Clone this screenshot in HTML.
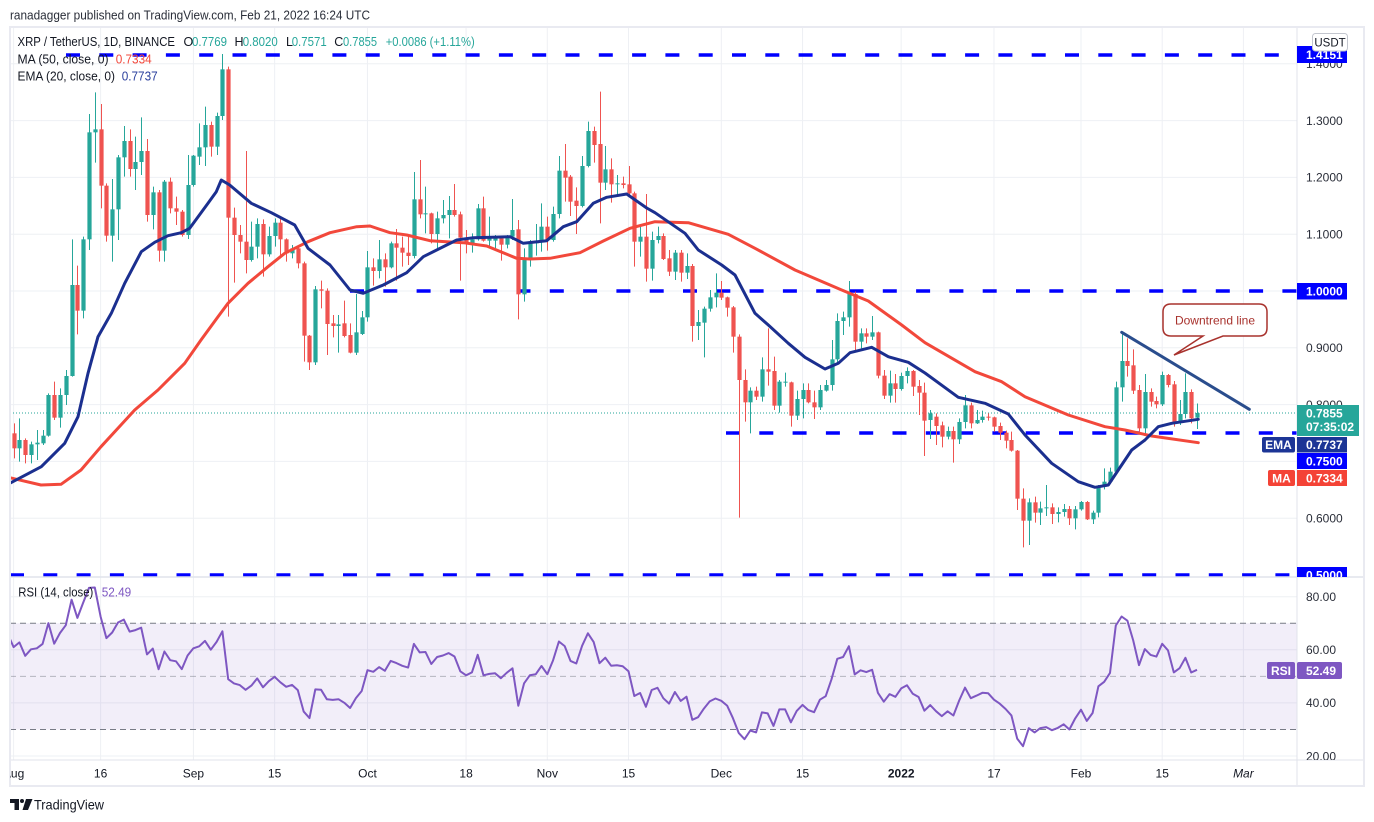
<!DOCTYPE html>
<html><head><meta charset="utf-8">
<style>
html,body{margin:0;padding:0;background:#fff;}
svg{display:block;font-family:"Liberation Sans",Arial,sans-serif;}
</style></head>
<body>
<svg id="s" width="1374" height="822" viewBox="0 0 1374 822" xmlns="http://www.w3.org/2000/svg">
<defs>
<clipPath id="cm"><rect x="10" y="27" width="1287" height="550"/></clipPath>
<clipPath id="cr"><rect x="10" y="577" width="1287" height="183"/></clipPath>
<clipPath id="ca"><rect x="1297" y="27" width="67" height="550"/></clipPath>
<clipPath id="cra"><rect x="1297" y="577" width="67" height="183"/></clipPath>
<clipPath id="ct"><rect x="10" y="760" width="1287" height="26"/></clipPath>
</defs>
<rect width="1374" height="822" fill="#fff"/>
<text x="10" y="19.5" font-size="13" fill="#2a2e39" textLength="360" lengthAdjust="spacingAndGlyphs">ranadagger published on TradingView.com, Feb 21, 2022 16:24 UTC</text>

<!-- grid -->
<g stroke="#eef0f4" stroke-width="1">
<line x1="10" x2="1297" y1="63.8" y2="63.8"/>
<line x1="10" x2="1297" y1="120.6" y2="120.6"/>
<line x1="10" x2="1297" y1="177.4" y2="177.4"/>
<line x1="10" x2="1297" y1="234.2" y2="234.2"/>
<line x1="10" x2="1297" y1="291" y2="291"/>
<line x1="10" x2="1297" y1="347.8" y2="347.8"/>
<line x1="10" x2="1297" y1="404.6" y2="404.6"/>
<line x1="10" x2="1297" y1="461.4" y2="461.4"/>
<line x1="10" x2="1297" y1="518.2" y2="518.2"/>
<line x1="10" x2="1297" y1="596.7" y2="596.7"/>
<line x1="10" x2="1297" y1="649.8" y2="649.8"/>
<line x1="10" x2="1297" y1="702.9" y2="702.9"/>
<line x1="10" x2="1297" y1="756" y2="756"/>
</g>
<g id="vgrid" stroke="#eef0f4" stroke-width="1"></g>

<!-- RSI band -->
<rect x="10" y="623.25" width="1287" height="106.25" fill="#7e57c2" fill-opacity="0.1"/>
<line x1="10" x2="1297" y1="623.25" y2="623.25" stroke="#787b86" stroke-dasharray="6 4"/>
<line x1="10" x2="1297" y1="676.4" y2="676.4" stroke="#787b86" stroke-opacity="0.5" stroke-dasharray="6 4"/>
<line x1="10" x2="1297" y1="729.5" y2="729.5" stroke="#787b86" stroke-dasharray="6 4"/>

<!-- main chart -->
<g clip-path="url(#cm)">
<line x1="10" x2="1297" y1="413" y2="413" stroke="#26a69a" stroke-width="1" stroke-dasharray="1 2"/>
<g stroke="#0000ff" stroke-width="3.5" stroke-dasharray="14 19.3">
<line x1="66" x2="1297" y1="55" y2="55"/>
<line x1="350" x2="1297" y1="291" y2="291"/>
<line x1="726" x2="1297" y1="433" y2="433" stroke-dashoffset="0"/>
<line x1="10" x2="1297" y1="575" y2="575"/>
</g>
<g id="candles"></g>
<polyline fill="none" stroke="#f2483b" stroke-width="3" stroke-linejoin="round" stroke-linecap="round" points="9.7,477.7 41,485 61,484.3 81,470 101,446.7 134.7,410 158,390 184.7,363.3 201,340 218,316.7 228,303.3 248,283.3 268,266.7 284.7,253.3 308,241.7 330,232.7 356.7,226.7 370,226 390,232.7 406.7,235 430,240.7 463.3,242.7 486.7,246 516.7,258.3 530,259 550,258.3 580,252.7 603.3,241 630,228.3 655,221.7 688.3,222.7 728.3,234.3 755,248.3 795,270 841.7,290 868.3,301 901.7,325 925,342.7 975,371.7 1001.7,381.7 1025,396.7 1068.3,415 1105,426.7 1125,430 1151.7,436 1198.3,442.7"/>
<polyline fill="none" stroke="#1b2f8f" stroke-width="3" stroke-linejoin="round" stroke-linecap="round" points="9.7,483.3 41.3,466.7 64.7,443.3 78,416.7 88,373.3 98,336.7 111.3,313.3 124.7,283.3 141.3,251.7 154.7,242.3 168,235.7 181.3,232.7 189.7,228.3 208,203.3 216.3,191.7 221.3,180 229.7,185 251.3,203.3 271.3,212.7 294.7,225 308,248.3 330,265 350,290 363.3,293.3 383.3,285 406.7,272.7 423.3,256.7 456.7,240 473.3,237.7 510,236.7 523.3,243.3 546.7,240.7 563.3,226.7 576.7,221.7 593.3,203.3 606.7,197.3 626.7,194 646.7,208 655,212.7 685,233.3 698.3,250 721.7,265 735,275 755,313.3 768.3,325 788.3,343.3 805,357.3 825,369 838.3,363.3 850,352.7 871.7,347.3 888.3,356.7 908.3,362.3 925,373 958.3,397.3 985,403.3 1008.3,414 1025,435 1051.7,463.3 1078.3,481.7 1095,487.3 1108.3,485 1118.3,470 1131.7,450 1145,440 1158.3,426.7 1171.7,423.3 1198.3,419.3"/>
<line x1="1121.7" y1="332.3" x2="1249.3" y2="409.3" stroke="#2a4d8d" stroke-width="3" stroke-linecap="round"/>
<!-- callout -->
<path d="M1171,304 H1259 Q1267,304 1267,312 V328 Q1267,336 1259,336 H1223 L1174,355 L1203,336 H1171 Q1163,336 1163,328 V312 Q1163,304 1171,304 Z" fill="#fff" stroke="#a8322d" stroke-width="1.5"/>
<text x="1215" y="324.5" font-size="12" fill="#a8322d" text-anchor="middle">Downtrend line</text>
</g>

<!-- legend -->
<text y="46" font-size="12.5" fill="#131722">
<tspan x="17.5" textLength="157.5" lengthAdjust="spacingAndGlyphs">XRP / TetherUS, 1D, BINANCE</tspan><tspan x="183.5">O</tspan><tspan x="192" fill="#26a69a" textLength="35" lengthAdjust="spacingAndGlyphs">0.7769</tspan><tspan x="234.5">H</tspan><tspan x="242.7" fill="#26a69a" textLength="35" lengthAdjust="spacingAndGlyphs">0.8020</tspan><tspan x="286">L</tspan><tspan x="291.7" fill="#26a69a" textLength="35" lengthAdjust="spacingAndGlyphs">0.7571</tspan><tspan x="334.3">C</tspan><tspan x="343" fill="#26a69a" textLength="34" lengthAdjust="spacingAndGlyphs">0.7855</tspan><tspan x="385.7" fill="#26a69a" textLength="89" lengthAdjust="spacingAndGlyphs">+0.0086 (+1.11%)</tspan>
</text>
<text x="17.5" y="63.5" font-size="12.5" fill="#131722" textLength="91" lengthAdjust="spacingAndGlyphs">MA (50, close, 0)</text>
<text x="115.7" y="63.5" font-size="12.5" fill="#f2483b" textLength="36" lengthAdjust="spacingAndGlyphs">0.7334</text>
<text x="17.5" y="80.5" font-size="12.5" fill="#131722" textLength="97.5" lengthAdjust="spacingAndGlyphs">EMA (20, close, 0)</text>
<text x="121.7" y="80.5" font-size="12.5" fill="#2a3f9d" textLength="36" lengthAdjust="spacingAndGlyphs">0.7737</text>

<!-- RSI -->
<g clip-path="url(#cr)">
<polyline id="rsi" fill="none" stroke="#7e57c2" stroke-width="2" stroke-linejoin="round"/>
</g>
<text x="18.3" y="596.5" font-size="12.5" fill="#131722" textLength="75" lengthAdjust="spacingAndGlyphs">RSI (14, close)</text>
<text x="101.7" y="596.5" font-size="12.5" fill="#7e57c2" textLength="29.5" lengthAdjust="spacingAndGlyphs">52.49</text>

<!-- frame & separators -->
<line x1="1297" x2="1297" y1="27" y2="786" stroke="#e0e3eb" stroke-width="1"/>
<line x1="10" x2="1364" y1="577" y2="577" stroke="#e0e3eb" stroke-width="1.5"/>
<line x1="10" x2="1364" y1="760" y2="760" stroke="#e0e3eb" stroke-width="1"/>
<rect x="10" y="27" width="1354" height="759" fill="none" stroke="#e9eaf1" stroke-width="2"/>

<!-- price axis -->
<g clip-path="url(#ca)" font-size="12" fill="#2a2e39">
<text x="1306" y="68">1.4000</text>
<text x="1306" y="124.8">1.3000</text>
<text x="1306" y="181.6">1.2000</text>
<text x="1306" y="238.4">1.1000</text>
<text x="1306" y="352">0.9000</text>
<text x="1306" y="408.8">0.8000</text>
<text x="1306" y="522.4">0.6000</text>
<rect x="1297" y="46" width="50" height="17" fill="#0000ff"/>
<text x="1306" y="59" fill="#fff" font-weight="bold">1.4151</text>
<rect x="1312.5" y="33.5" width="35" height="17.5" rx="3" fill="#fff" stroke="#c3c6ce"/>
<text x="1330" y="46.5" text-anchor="middle" font-size="11.5" fill="#131722">USDT</text>
<rect x="1297" y="283" width="50" height="16.5" fill="#0000ff"/>
<text x="1306" y="295.5" fill="#fff" font-weight="bold">1.0000</text>
<rect x="1297" y="405" width="62" height="31" fill="#26a69a"/>
<text x="1306" y="417.5" fill="#fff" font-weight="bold">0.7855</text>
<text x="1306" y="431" fill="#fff" font-weight="bold">07:35:02</text>
<rect x="1297" y="437" width="50" height="15.5" fill="#1c3596"/>
<text x="1306" y="449" fill="#fff" font-weight="bold">0.7737</text>
<rect x="1297" y="453" width="50" height="16" fill="#0000ff"/>
<text x="1306" y="465.5" fill="#fff" font-weight="bold">0.7500</text>
<rect x="1297" y="470" width="50" height="16" fill="#f44336"/>
<text x="1306" y="482.5" fill="#fff" font-weight="bold">0.7334</text>
<rect x="1297" y="567" width="50" height="16" fill="#0000ff"/>
<text x="1306" y="579.5" fill="#fff" font-weight="bold">0.5000</text>
</g>
<rect x="1262" y="437" width="33" height="15.5" rx="2" fill="#1c3596"/>
<text x="1278.5" y="449" text-anchor="middle" font-size="12" fill="#fff" font-weight="bold">EMA</text>
<rect x="1268" y="470" width="27" height="16" rx="2" fill="#f44336"/>
<text x="1281.5" y="482.5" text-anchor="middle" font-size="12" fill="#fff" font-weight="bold">MA</text>

<!-- RSI axis -->
<g clip-path="url(#cra)" font-size="12" fill="#2a2e39">
<text x="1306" y="601">80.00</text>
<text x="1306" y="654">60.00</text>
<text x="1306" y="707">40.00</text>
<text x="1306" y="760.5">20.00</text>
<rect x="1297" y="662" width="45" height="17" rx="2" fill="#7e57c2"/>
<text x="1306" y="675" fill="#fff" font-weight="bold">52.49</text>
</g>
<rect x="1267" y="662" width="28" height="17" rx="2" fill="#7e57c2"/>
<text x="1281" y="675" text-anchor="middle" font-size="12" fill="#fff" font-weight="bold">RSI</text>

<!-- time axis -->
<g clip-path="url(#ct)" font-size="12" fill="#131722" text-anchor="middle">
<text x="13.6" y="777.5">Aug</text>
<text x="100.6" y="777.5">16</text>
<text x="193.4" y="777.5">Sep</text>
<text x="274.6" y="777.5">15</text>
<text x="367.5" y="777.5">Oct</text>
<text x="466.1" y="777.5">18</text>
<text x="547.3" y="777.5">Nov</text>
<text x="628.5" y="777.5">15</text>
<text x="721.3" y="777.5">Dec</text>
<text x="802.5" y="777.5">15</text>
<text x="901.2" y="777.5" font-weight="bold">2022</text>
<text x="994" y="777.5">17</text>
<text x="1081" y="777.5">Feb</text>
<text x="1162.2" y="777.5">15</text>
<text x="1243.4" y="777.5" font-style="italic">Mar</text>
</g>

<!-- footer -->
<g fill="#131722">
<rect x="10" y="799" width="9" height="4"/>
<rect x="14.5" y="799" width="4.5" height="11"/>
<circle cx="22" cy="801" r="2"/>
<polygon points="26,799 32.5,799 28,810 22.5,810"/>
</g>
<text x="34" y="809.5" font-size="14" fill="#131722" textLength="70" lengthAdjust="spacingAndGlyphs">TradingView</text>

<script>
(function(){
var NS="http://www.w3.org/2000/svg";
function el(t,a,p){var e=document.createElementNS(NS,t);for(var k in a)e.setAttribute(k,a[k]);p.appendChild(e);return e;}
var X=function(d){return 13.6+5.801*d;};
var vg=document.getElementById('vgrid');
[0,15,31,45,61,78,92,106,122,136,153,169,184,198,212].forEach(function(d){var x=X(d);if(x<10)x=10.5;el('line',{x1:x,x2:x,y1:27,y2:760},vg);});
var S=[[40,0,[[1180,1150,1255,1225],[1225,1135,1265,1200],[1200,1195,1270,1245],[1245,1205,1270,1213],[1213,1170,1260,1208],[1210,1170,1215,1187],[1187,1060,1190,1065],[1065,1025,1140,1133],[1133,1045,1163,1065],[1065,990,1095,1008],[1008,598,1010,735],[735,677,883,812],[812,590,835,598],[598,222,630,277],[277,157,368,268],[268,192,505,437],[437,430,605,587],[587,417,665,508],[508,345,600,352],[352,258,410,303],[303,268,410,387],[387,290,450,366],[366,232,405,333],[333,297,545,525],[525,440,568,457],[457,450,665,632],[632,420,665,425],[425,413,520,505],[505,470,555,515],[515,510,590,585],[585,345,597,435],[435,345,440,347],[350,250,375,322],[322,200,378,255],[255,245,350,320],[320,218,345,228],[228,42,240,88],[88,80,830,533],[533,503,728,585],[585,555,640,605],[605,333,700,660],[660,545,665,620],[620,535,655,552],[552,538,710,643],[643,560,650,588],[588,535,620,548],[548,530,645,598],[598,595,665,640],[640,615,655,625],[625,620,685,670],[670,665,965,887],[887,885,990,967],[967,738,975,748],[748,722,805,752],[752,745,945,852]]],
[80,55,[[730,705,772,738],[738,705,818,733],[730,662,772,768],[765,730,820,818],[818,642,825,757],[762,693,765,712],[712,513,725,562],[562,535,617,573],[573,480,595,538],[538,520,620,562],[562,485,565,490],[490,447,602,503],[503,470,560,518],[518,470,555,528],[528,276,535,358],[358,240,415,403],[403,320,460,400],[400,398,490,462],[462,395,505,415],[415,360,430,405],[405,348,475,390],[390,312,410,405],[403,395,602,473],[473,450,520,492],[492,460,518,478],[478,372,482,385],[385,350,485,482],[482,410,500,475],[482,465,505,472],[475,470,542,494],[494,465,505,470],[470,357,480,450],[448,420,718,643],[643,505,665,535],[535,480,560,490],[490,432,527,485],[485,370,515,440],[440,410,512,480],[480,380,485,402],[402,228,415,272],[272,192,365,293],[290,285,408,365],[362,322,462,378],[378,228,382,258],[258,125,262,153],[153,140,248,195],[192,35,430,308],[308,198,330,268],[268,235,368,313],[313,285,345,310],[310,290,325,315],[313,258,350,340],[340,335,560,485],[485,440,530,470],[470,342,605,566],[566,455,602,480],[480,440,490,468]]],
[200,112,[[108,100,180,177],[175,150,228,215],[215,150,240,158],[158,150,245,218],[218,160,237,198],[198,192,425,378],[378,330,420,366],[368,320,472,326],[326,270,335,292],[292,220,322,278],[278,243,300,293],[292,290,350,323],[322,318,458,410],[410,403,953,540],[540,508,665,607],[607,562,700,572],[572,560,600,590],[590,472,605,508],[508,385,557,515],[513,470,630,617],[617,540,638,545],[548,518,560,545],[547,545,680,647],[647,572,660,597],[597,550,655,570],[570,550,610,607],[607,572,657,622],[622,555,630,570],[572,540,575,555],[555,420,572,478],[478,340,495,363],[363,335,405,352],[352,243,380,282],[282,275,450,425],[425,385,445,400],[400,385,430,410],[410,348,420,397],[397,395,535,527],[527,510,597,587],[587,512,608,550],[550,522,608,567],[567,518,572,528],[528,502,550,513],[513,510,588,560],[558,540,645,578],[578,548,768,662]]],
[300,158,[[360,330,417,340],[350,340,435,378],[376,365,442,410],[410,380,418,393],[393,380,488,418],[418,355,432,366],[366,285,385,316],[316,308,385,370],[370,330,372,360],[360,332,368,350],[350,340,362,352],[352,350,395,380],[378,368,420,398],[398,392,445,422],[420,395,455,452],[452,450,630,596],[596,565,742,662],[662,595,735,607],[607,590,668,638],[638,605,675,625],[625,555,648,622],[622,610,672,642],[642,622,667,636],[636,612,650,627],[627,618,675,655],[655,618,688,628],[628,603,632,606],[606,603,660,658],[658,632,672,638],[638,555,652,560],[560,505,568,545],[545,503,552,515],[515,245,520,262],[262,100,305,183],[183,115,230,198],[196,148,282,272],[270,255,395,385],[385,222,405,276],[276,265,320,305],[303,290,325,313],[313,215,318,225],[225,222,262,255],[253,243,380,368],[368,300,375,342],[342,220,355,276],[276,268,370,355],[353,310.5,387,339]]]];
var g=document.getElementById('candles');
var prev=1+(291-(40+1180/3))/568, ag=0.0157, al=0.008;
var pts=["10,639"];
S.forEach(function(s){var off=s[0],st=s[1];s[2].forEach(function(c,i){
 var d=st+i,x=X(d),o=off+c[0]/3,h=off+c[1]/3,l=off+c[2]/3,cl=off+c[3]/3;
 var up=cl<=o,col=up?'#26a69a':'#ef5350';
 var xr=Math.round(x)+0.5;
 el('line',{x1:xr,x2:xr,y1:h,y2:l,stroke:col,'stroke-width':1},g);
 var top=Math.min(o,cl),ht=Math.max(1,Math.abs(o-cl));
 el('rect',{x:xr-2.1,y:top,width:4.2,height:ht,fill:col},g);
 var p=1+(291-cl)/568,ch=p-prev;prev=p;
 ag=(ag*13+Math.max(ch,0))/14;al=(al*13+Math.max(-ch,0))/14;
 var r=100-100/(1+ag/al);
 pts.push(x.toFixed(1)+","+(596.7+(80-r)*2.655).toFixed(1));
});});
document.getElementById('rsi').setAttribute('points',pts.join(' '));
})();
</script>
</svg>
</body></html>
